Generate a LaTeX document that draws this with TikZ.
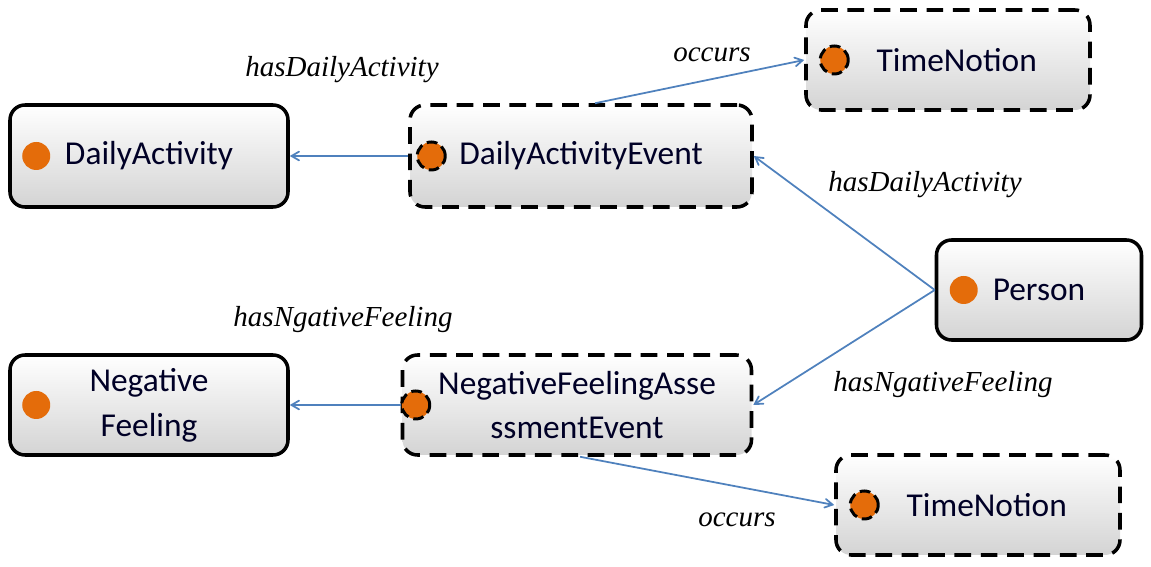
\documentclass[tikz,border=0pt]{standalone}
\usepackage{fontspec}
\setmainfont{Liberation Serif}
\newfontfamily\boxfont{Carlito}
\usepackage{tikz}
\usetikzlibrary{arrows}
\definecolor{linkblue}{RGB}{79,129,189}
\definecolor{dotorange}{RGB}{228,108,10}
\begin{document}
\begin{tikzpicture}[
	cls/.style={draw=black, line width=2pt, rounded corners=0.3cm, top color=white, bottom color=black!17,
		align=center, font=\boxfont\fontsize{19}{25.5}\selectfont, text=black!85!blue, inner sep=0pt},
	evt/.style={cls, dash pattern=on 9.5pt off 5.5pt},
	dot/.style={circle, fill=dotorange, minimum size=0.56cm, inner sep=0pt},
	evdot/.style={dot, draw=black, line width=1.7pt, dash pattern=on 6pt off 3pt},
	link/.style={draw=linkblue, line width=1pt, ->, >=angle 60},
	lbl/.style={font=\itshape\fontsize{16.5}{18}\selectfont}
	]
	\useasboundingbox (0,0) rectangle (23.02,11.34);
	% classes
	\node[cls, minimum width=5.56cm, minimum height=2.04cm] (da) at (2.98,8.22) {DailyActivity};
	\node[evt, minimum width=6.84cm, minimum height=2.04cm] (dae) at (11.62,8.22) {DailyActivityEvent};
	\node[evt, minimum width=5.68cm, minimum height=2cm] (tnup) at (18.96,10.14) {\hspace{0.35cm}TimeNotion};
	\node[cls, minimum width=4.1cm, minimum height=2cm] (person) at (20.78,5.54) {Person};
	\node[cls, minimum width=5.56cm, minimum height=2cm] (nf) at (2.98,3.24) {Negative\\Feeling};
	\node[evt, minimum width=6.98cm, minimum height=2cm] (nfae) at (11.54,3.24) {NegativeFeelingAsse\\ssmentEvent};
	\node[evt, minimum width=5.68cm, minimum height=2cm] (tndown) at (19.56,1.24) {\hspace{0.35cm}TimeNotion};
	% dots
	\node[dot] (dadot) at ([xshift=0.56cm]da.west) {};
	\node[evdot] (daedot) at ([xshift=0.46cm]dae.west) {};
	\node[evdot] (tnupdot) at ([xshift=0.6cm]tnup.west) {};
	\node[dot] (persondot) at ([xshift=0.58cm]person.west) {};
	\node[dot] (nfdot) at ([xshift=0.56cm]nf.west) {};
	\node[evdot] (nfaedot) at ([xshift=0.3cm]nfae.west) {};
	\node[evdot] (tndowndot) at ([xshift=0.6cm]tndown.west) {};
	% links
	\draw[link] (dae.west) -- (da.east);
	\draw[link] ([xshift=0.28cm]dae.north) -- (tnup.west);
	\draw[link] (person.west) -- (dae.east);
	\draw[link] (person.west) -- (nfae.east);
	\draw[link] (nfae.west) -- (nf.east);
	\draw[link] ([xshift=0.06cm]nfae.south) -- (tndown.west);
	% labels
	\node[lbl] (occup) at (14.24,10.24) {occurs};
	\node[lbl] (hdaleft) at (6.84,9.94) {hasDailyActivity};
	\node[lbl] (hdaright) at (18.5,7.64) {hasDailyActivity};
	\node[lbl] (hnfleft) at (6.86,4.94) {hasNgativeFeeling};
	\node[lbl] (hnfright) at (18.86,3.64) {hasNgativeFeeling};
	\node[lbl] (occdown) at (14.74,0.94) {occurs};
\end{tikzpicture}
\end{document}
